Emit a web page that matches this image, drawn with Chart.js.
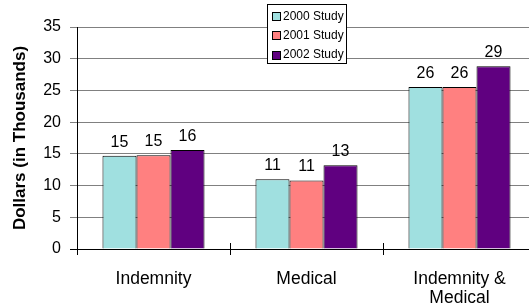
<!DOCTYPE html>
<html><head><meta charset="utf-8">
<script src="https://cdn.jsdelivr.net/npm/chart.js@4.4.0/dist/chart.umd.min.js"></script>
<style>
html,body{margin:0;padding:0;overflow:hidden;background:#fff;width:529px;height:304px}
#wrap{width:540px;height:304px;position:relative}
</style>
</head><body><div id="wrap"><canvas id="c"></canvas></div>
<script>
const categories = ['Indemnity', 'Medical', ['Indemnity &', 'Medical']];
const seriesNames = ['2000 Study', '2001 Study', '2002 Study'];
const study2000 = [14.7, 11.0, 25.55];
const study2001 = [14.8, 10.8, 25.55];
const study2002 = [15.6, 13.2, 28.8];
const yMin = 0, yMax = 35, yStep = 5;
const colors = ['#A0E0E0', '#FF8080', '#600080'];
const FONT = '"Liberation Sans", Arial, sans-serif';

const dataLabels = {
  id: 'dataLabels',
  afterDatasetsDraw(chart) {
    const ctx = chart.ctx;
    ctx.save();
    ctx.fillStyle = '#000';
    ctx.font = '16px ' + FONT;
    ctx.textAlign = 'center';
    ctx.textBaseline = 'alphabetic';
    chart.data.datasets.forEach((ds, i) => {
      chart.getDatasetMeta(i).data.forEach((bar, j) => {
        ctx.fillText(String(Math.round(ds.data[j])), bar.x, bar.y - 9);
      });
    });
    ctx.restore();
  }
};

const innerTicks = {
  id: 'innerTicks',
  afterDraw(chart) {
    const s = chart.scales.x, ctx = chart.ctx;
    const n = s.ticks.length;
    ctx.save();
    ctx.strokeStyle = '#000';
    ctx.lineWidth = 1;
    for (let i = 1; i <= n; i++) {
      const x = Math.round(s.left + i * s.width / n) + 0.5;
      ctx.beginPath();
      ctx.moveTo(x, s.top - 6);
      ctx.lineTo(x, s.top);
      ctx.stroke();
    }
    ctx.restore();
  }
};

const boxLegend = {
  id: 'boxLegend',
  afterDraw(chart) {
    const ctx = chart.ctx;
    const bx = 267, by = 4, bw = 79, bh = 59;
    ctx.save();
    ctx.fillStyle = '#fff';
    ctx.fillRect(bx, by, bw, bh);
    ctx.strokeStyle = '#000';
    ctx.lineWidth = 1;
    ctx.strokeRect(bx + 0.5, by + 0.5, bw, bh);
    ctx.font = '12px ' + FONT;
    ctx.textBaseline = 'middle';
    ctx.textAlign = 'left';
    chart.data.datasets.forEach((ds, i) => {
      const cy = by + 12 + i * 19.3;
      ctx.fillStyle = ds.backgroundColor;
      ctx.fillRect(272, Math.round(cy - 4), 8, 8);
      ctx.strokeStyle = '#000';
      ctx.strokeRect(272.5, Math.round(cy - 4) + 0.5, 8, 8);
      ctx.fillStyle = '#000';
      ctx.fillText(ds.label, 283, cy + 0.5);
    });
    ctx.restore();
  }
};

new Chart(document.getElementById('c'), {
  type: 'bar',
  data: {
    labels: categories,
    datasets: [study2000, study2001, study2002].map((d, i) => ({
      label: seriesNames[i],
      data: d,
      backgroundColor: colors[i],
      borderColor: '#000',
      borderWidth: 1,
      categoryPercentage: 0.667,
      barPercentage: 1.0
    }))
  },
  options: {
    responsive: true,
    maintainAspectRatio: false,
    animation: false,
    layout: { padding: { top: 27, right: 4, left: 0, bottom: 0 } },
    plugins: { legend: { display: false }, tooltip: { enabled: false } },
    scales: {
      x: {
        afterFit(s) { s.height = 55; },
        grid: { drawOnChartArea: false, drawTicks: true, tickLength: 6, color: '#000', offset: true },
        border: { display: true, color: '#000', width: 1 },
        ticks: { color: '#000', font: { family: FONT, size: 17.5, lineHeight: 1.12 }, padding: 14, maxRotation: 0, autoSkip: false }
      },
      y: {
        min: yMin, max: yMax,
        afterFit(s) { s.width = 77; },
        grid: { color: c => (c.tick && c.tick.value === 0) ? '#000' : '#808080', tickLength: 7, lineWidth: 1 },
        border: { display: true, color: '#000', width: 1 },
        ticks: { stepSize: yStep, color: '#000', font: { family: FONT, size: 16 }, padding: 9 },
        title: { display: true, text: 'Dollars (in Thousands)', color: '#000', font: { family: FONT, size: 17, weight: 'bold' }, padding: { top: 10, bottom: 0 } }
      }
    }
  },
  plugins: [dataLabels, innerTicks, boxLegend]
});
</script>
</body></html>
